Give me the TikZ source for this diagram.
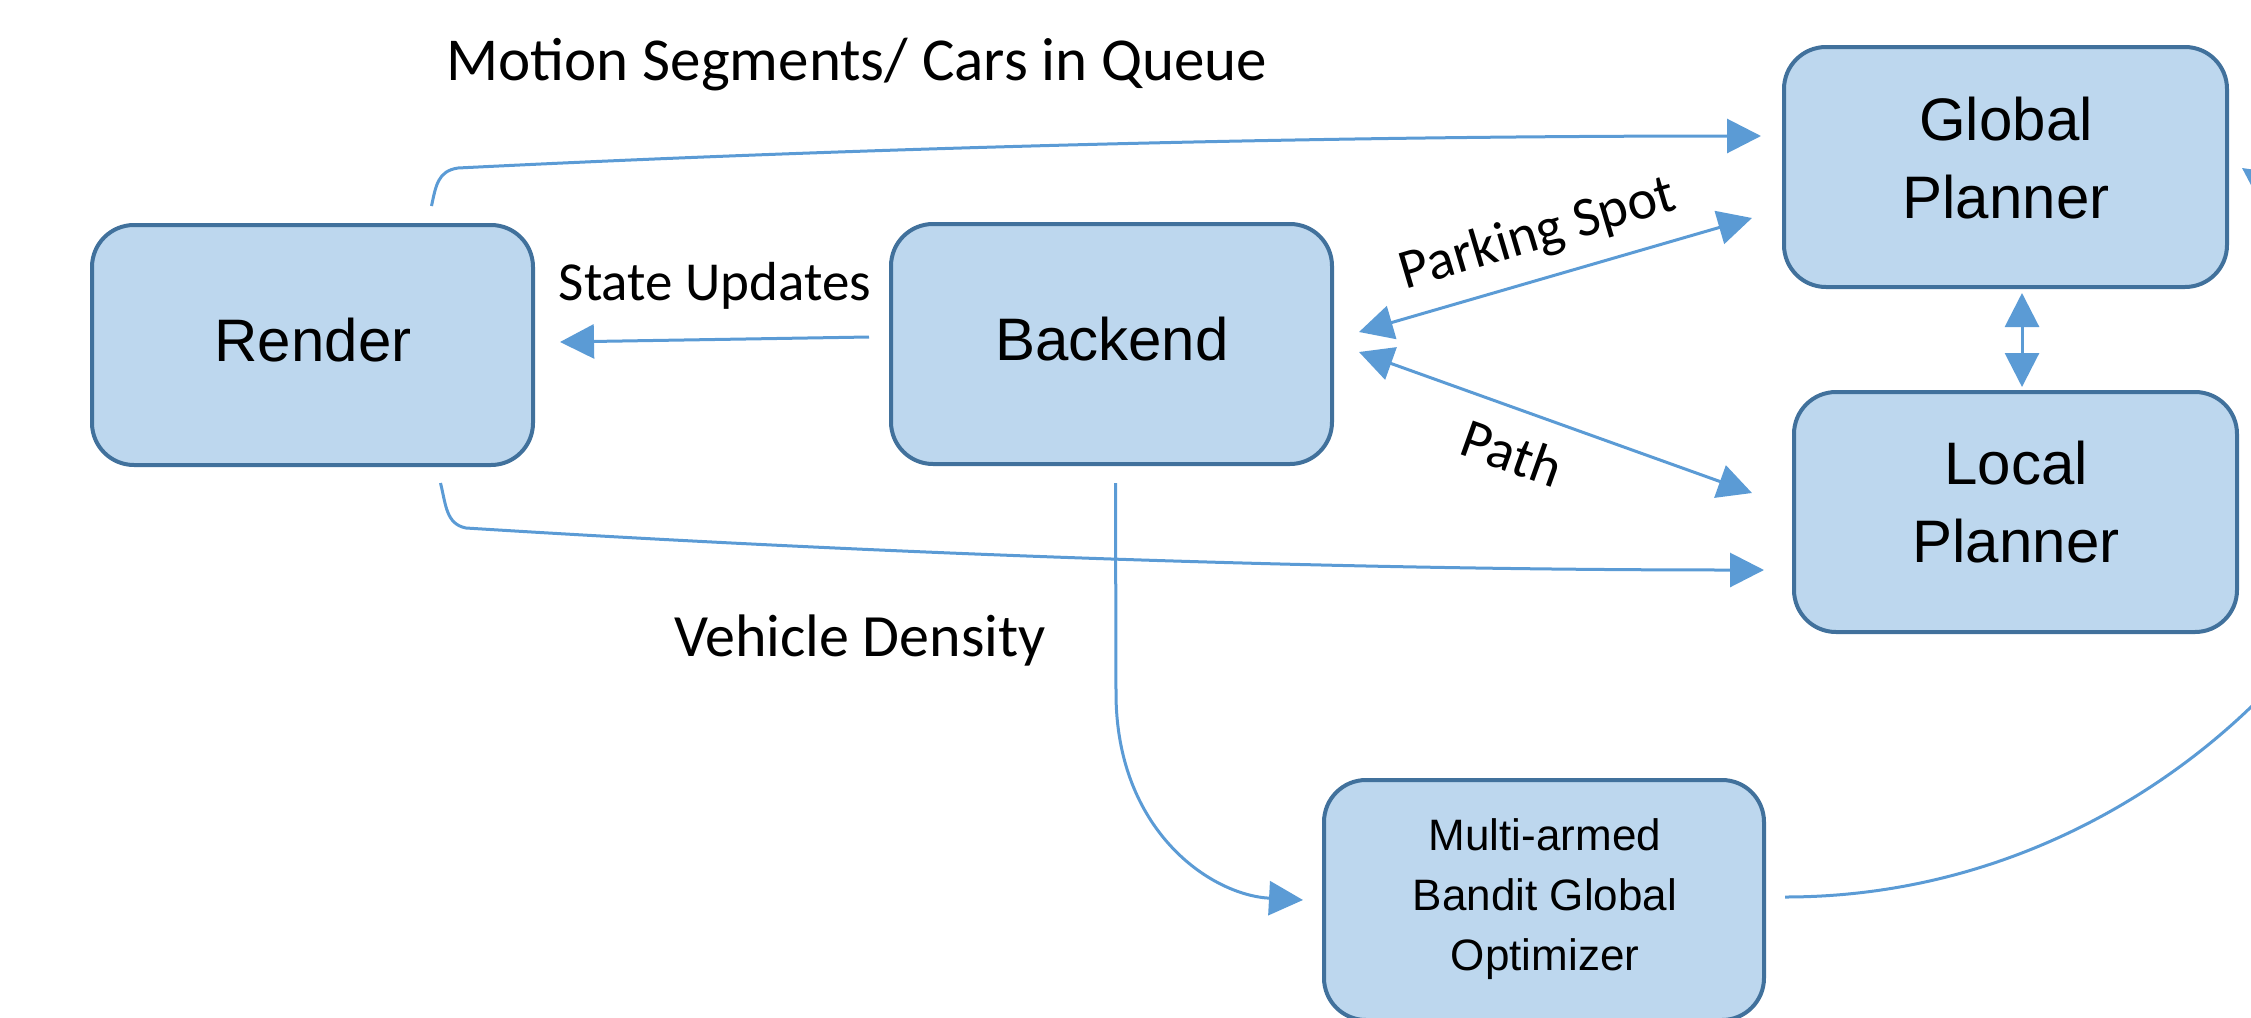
\documentclass[tikz,border=0pt]{standalone}
\usepackage{fontspec}
\setmainfont{Liberation Sans}
\newfontfamily\calibri{Carlito}
\usetikzlibrary{arrows.meta,fit,calc}
\definecolor{boxfill}{HTML}{BDD7EE}
\definecolor{boxline}{HTML}{41719C}
\definecolor{link}{HTML}{5B9BD5}

\begin{document}
\begin{tikzpicture}[x=0.5pt,y=-0.5pt,
  block/.style={draw=boxline, fill=boxfill, line width=2pt, rounded corners=21pt, inner sep=0pt},
  blocktext/.style={font=\fontsize{30}{39}\selectfont, align=center, inner sep=0pt},
  smalltext/.style={font=\fontsize{22}{30}\selectfont, align=center, inner sep=0pt},
  tip/.tip={Triangle[length=17pt,width=17pt]},
  conn/.style={draw=link, line width=1.5pt, -tip},
  both/.style={draw=link, line width=1.5pt, tip-tip},
  lbl/.style={font=\calibri\fontsize{28}{34}\selectfont, inner sep=0pt}]

\useasboundingbox (0,0) rectangle (2251,1018);
\clip (0,0) rectangle (2251,1018);

% boxes
\node[block, fit={(92,225)(533,465)}] (render) {};
\node[block, fit={(891,224)(1332,464)}] (backend) {};
\node[block, fit={(1784,47)(2227,287)}] (gp) {};
\node[block, fit={(1794,392)(2237,632)}] (lp) {};
\node[block, fit={(1324,780)(1764,1020)}] (opt) {};

% box captions
\node[blocktext] (render-t) at (313,340) {Render};
\node[blocktext] (backend-t) at (1112,339) {Backend};
\node[blocktext] (gp-t) at (2006,158) {Global\\Planner};
\node[blocktext] (lp-t) at (2016,502) {Local\\Planner};
\node[smalltext] (opt-t) at (1545,899) {Multi-armed\\Bandit Global\\Optimizer};

% free ends of the connectors
\coordinate (su-a) at ($(backend.west)+(-20,-7)$);
\coordinate (su-b) at ($(render.east)+(25,-3)$);
\coordinate (ps-a) at ($(backend.east)+(25,-12)$);
\coordinate (ps-b) at ($(gp.west)+(-30,51)$);
\coordinate (pa-a) at ($(backend.east)+(25,8)$);
\coordinate (pa-b) at ($(lp.west)+(-40,-19)$);
\coordinate (gl-a) at (2022,293);
\coordinate (gl-b) at (2022,387);
\coordinate (mq-a) at ($(render.north)+(119,-17)$);
\coordinate (mq-b) at ($(gp.west)+(-21,-31)$);
\coordinate (lo-a) at ($(render.south)+(128,16)$);
\coordinate (lo-b) at ($(lp.west)+(-28,58)$);
\coordinate (vd-a) at ($(backend.south)+(4,17)$);
\coordinate (vd-b) at ($(opt.west)+(-19,0)$);
\coordinate (op-a) at ($(opt.east)+(19,-3)$);
\coordinate (op-b) at ($(gp.east)+(13,1)$);

% connectors
\draw[conn] (su-a) -- (su-b);
\draw[both] (ps-a) -- (ps-b);
\draw[both] (pa-a) -- (pa-b);
\draw[both] (gl-a) -- (gl-b);
\draw[conn] (mq-a) .. controls (436,185) and (438,171) .. (458,168)
  .. controls (858,148) and (1313,136) .. (mq-b);
\draw[conn] (lo-a) .. controls (446,505) and (446,524) .. (466,528)
  .. controls (866,553) and (1316,570) .. (lo-b);
\draw[conn] (vd-a) -- (1116,693) .. controls (1116,830) and (1210,895) .. (vd-b);
\draw[conn] (op-a) .. controls (2050,897) and (2250,740) .. (2340,600)
  .. controls (2385,530) and (2330,230) .. (op-b);

% connector labels
\node[lbl, font=\calibri\fontsize{30.5}{36}\selectfont] (mq-l) at (857,65) {Motion Segments/ Cars in Queue};
\node[lbl, font=\calibri\fontsize{27.5}{34}\selectfont] (su-l) at (715,286) {State Updates};
\node[lbl, font=\calibri\fontsize{30}{34}\selectfont] (vd-l) at (860,640) {Vehicle Density};
\node[lbl, rotate=16.5] (ps-l) at (1538,235) {Parking Spot};
\node[lbl, rotate=-19.7] (pa-l) at (1512,453) {Path};
\end{tikzpicture}
\end{document}
